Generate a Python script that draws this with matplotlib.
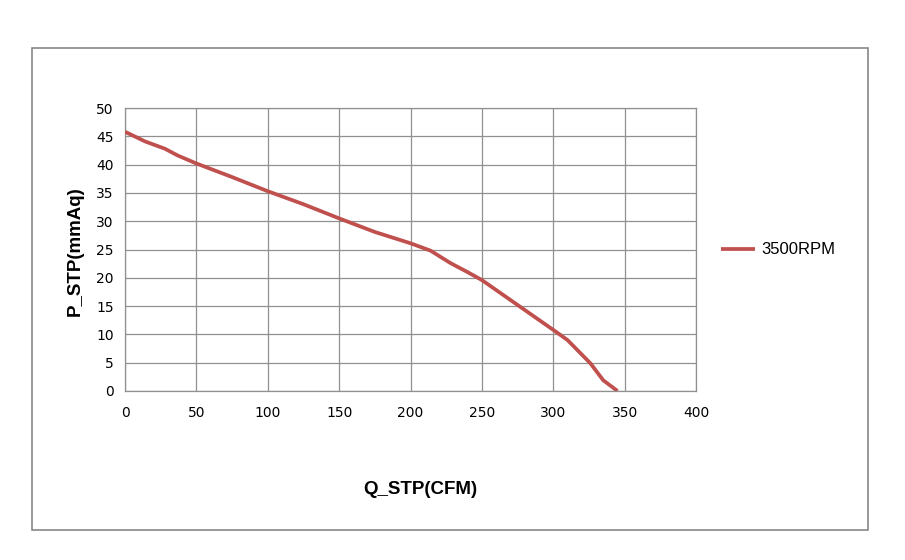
import matplotlib.pyplot as plt
from matplotlib.patches import Rectangle

# Fan curve
q_cfm = [0, 5, 14, 28, 37, 50, 75, 100, 125, 150, 175, 200, 214, 228, 240,
         250, 275, 300, 310, 326, 335, 345]
p_mmaq = [45.8, 45.2, 44.1, 42.8, 41.6, 40.2, 37.8, 35.3, 33.0, 30.5, 28.1,
          26.1, 24.8, 22.6, 21.0, 19.6, 15.2, 10.8, 9.0, 4.9, 1.9, 0.0]
series_label = "3500RPM"
x_ticks = [0, 50, 100, 150, 200, 250, 300, 350, 400]
y_ticks = [0, 5, 10, 15, 20, 25, 30, 35, 40, 45, 50]

W, H = 905, 560
fig = plt.figure(figsize=(W / 100, H / 100), dpi=100)

# outer chart border
fig.patches.append(Rectangle((32 / W, 1 - 530 / H), (868 - 32) / W, (530 - 48) / H,
                             transform=fig.transFigure, fill=False,
                             edgecolor="#888888", linewidth=1.2))

ax = fig.add_axes([125 / W, 1 - 391 / H, (696 - 125) / W, (391 - 108) / H])
ax.plot(q_cfm, p_mmaq, color="#C0504D", linewidth=2.7, label=series_label,
        solid_capstyle="butt", zorder=3)

ax.set_xlim(0, 400)
ax.set_ylim(0, 50)
ax.set_xticks(x_ticks)
ax.set_yticks(y_ticks)
ax.tick_params(axis="x", length=0, labelsize=10, pad=11)
ax.tick_params(axis="y", length=0, labelsize=10, pad=8)
ax.grid(True, color="#909090", linewidth=0.9)
ax.set_axisbelow(True)
for s in ax.spines.values():
    s.set_color("#909090")
    s.set_linewidth(0.9)

fig.text(75 / W, 1 - 251 / H, "P_STP(mmAq)", rotation=90, ha="center", va="center",
         fontsize=13.5, fontweight="bold", family="Liberation Sans")
fig.text(420 / W, 1 - 490 / H, "Q_STP(CFM)", ha="center", va="center",
         fontsize=13.5, fontweight="bold", family="Liberation Sans")

ax.legend(loc="center left", bbox_to_anchor=(706 / W, 1 - 250 / H),
          bbox_transform=fig.transFigure, frameon=False,
          prop={"family": "Liberation Sans", "size": 12},
          handlelength=2.05, handletextpad=0.36)

fig.savefig("out.png", dpi=100)
